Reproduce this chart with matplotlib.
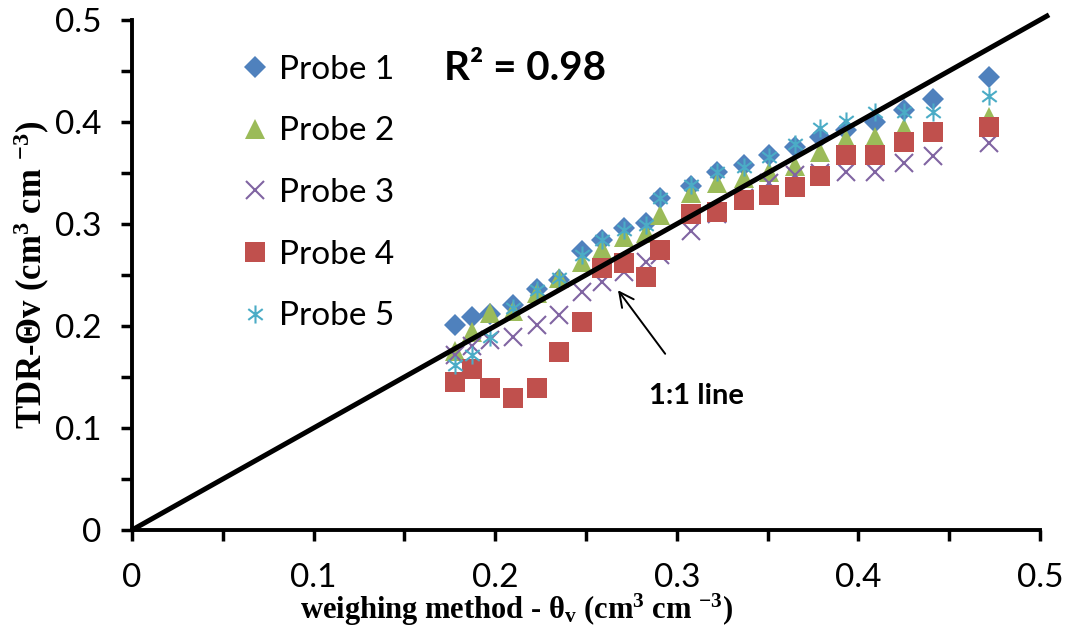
import numpy as np
import matplotlib
matplotlib.use("Agg")
import matplotlib.pyplot as plt
from matplotlib.path import Path

plt.rcParams['font.family'] = ['Lato', 'DejaVu Sans']
plt.rcParams['mathtext.fontset'] = 'custom'
plt.rcParams['mathtext.rm'] = 'Liberation Serif:bold'
plt.rcParams['mathtext.it'] = 'Liberation Serif:bold'
plt.rcParams['mathtext.bf'] = 'Liberation Serif:bold'

# Gravimetric water content (x) shared by all probes
theta_weigh = [0.178, 0.187, 0.197, 0.210, 0.223, 0.235, 0.248, 0.259, 0.271, 0.283, 0.291,
               0.308, 0.322, 0.337, 0.351, 0.365, 0.379, 0.393, 0.409, 0.425, 0.441, 0.472]

probe1 = [0.201, 0.209, 0.212, 0.221, 0.236, 0.245, 0.273, 0.284, 0.296, 0.301, 0.325,
          0.337, 0.351, 0.358, 0.368, 0.375, 0.385, 0.392, 0.400, 0.412, 0.422, 0.444]
probe2 = [0.175, 0.194, 0.213, 0.215, 0.232, 0.247, 0.263, 0.275, 0.287, 0.291, 0.309,
          0.330, 0.340, 0.345, 0.351, 0.357, 0.371, 0.383, 0.385, 0.394, 0.390, 0.405]
probe3 = [0.172, 0.180, 0.186, 0.189, 0.201, 0.211, 0.233, 0.243, 0.253, 0.263, 0.270,
          0.293, 0.310, 0.325, 0.340, 0.348, 0.350, 0.351, 0.351, 0.360, 0.367, 0.379]
probe4 = [0.145, 0.158, 0.139, 0.129, 0.139, 0.174, 0.204, 0.257, 0.262, 0.248, 0.274,
          0.310, 0.312, 0.323, 0.328, 0.336, 0.347, 0.368, 0.368, 0.380, 0.390, 0.395]
probe5 = [0.162, 0.172, 0.189, 0.218, 0.235, 0.247, 0.270, 0.284, 0.294, 0.299, 0.325,
          0.338, 0.351, 0.356, 0.366, 0.378, 0.394, 0.401, 0.410, 0.410, 0.410, 0.425]

labels = ["Probe 1", "Probe 2", "Probe 3", "Probe 4", "Probe 5"]
colors = ["#4F81BD", "#9BBB59", "#8064A2", "#C0504D", "#4BACC6"]

# asterisk: vertical bar plus an X
asterisk = Path([(0, -1), (0, 1), (-0.8, -0.6), (0.8, 0.6), (-0.8, 0.6), (0.8, -0.6)],
                [Path.MOVETO, Path.LINETO] * 3)

fig = plt.figure(figsize=(10.65, 6.36), dpi=100)
ax = fig.add_axes([0.124, 0.1667, 0.8525, 0.802])

styles = [
    dict(marker='D', markersize=11.5, markeredgewidth=0),
    dict(marker='^', markersize=15, markeredgewidth=0),
    dict(marker='x', markersize=13, markeredgewidth=1.5),
    dict(marker='s', markersize=14, markeredgewidth=0),
    dict(marker=asterisk, markersize=13, markeredgewidth=1.5),
]
series = [probe1, probe2, probe3, probe4, probe5]
handles = []
for ys, lab, col, st in zip(series, labels, colors, styles):
    h, = ax.plot(theta_weigh, ys, linestyle='none', color=col, label=lab, zorder=3, **st)
    handles.append(h)

# 1:1 reference line
ax.plot([0, 0.505], [0, 0.505], color='black', linewidth=3.6, zorder=4,
        clip_on=False, solid_capstyle='butt')

ax.set_xlim(0, 0.5)
ax.set_ylim(0, 0.5)
ax.set_xticks([0, 0.1, 0.2, 0.3, 0.4, 0.5])
ax.set_yticks([0, 0.1, 0.2, 0.3, 0.4, 0.5])
ax.set_xticklabels(["0", "0.1", "0.2", "0.3", "0.4", "0.5"])
ax.set_yticklabels(["0", "0.1", "0.2", "0.3", "0.4", "0.5"])
ax.set_xticks(np.arange(0.05, 0.5, 0.1), minor=True)
ax.set_yticks(np.arange(0.05, 0.5, 0.1), minor=True)
ax.tick_params(which='both', direction='out', length=8, width=2.5, labelsize=24)
ax.tick_params(axis='x', which='major', pad=16)
ax.tick_params(axis='y', which='major', pad=14)

for s in ['top', 'right']:
    ax.spines[s].set_visible(False)
for s in ['left', 'bottom']:
    ax.spines[s].set_linewidth(2.8)

ax.set_xlabel(r"weighing method - θ$_{\mathrm{v}}$ (cm$^{3}$ cm $^{-3}$)",
              family='Liberation Serif', fontweight='bold', fontsize=22)
ax.xaxis.set_label_coords(0.424, -0.122)
ax.set_ylabel(r"TDR-Θv (cm$^{3}$ cm $^{-3}$)",
              family='Liberation Serif', fontweight='bold', fontsize=25, labelpad=2)

ax.text(0.172, 0.452, "R² = 0.98", fontsize=29, fontweight='bold', ha='left', va='center')

ax.annotate("1:1 line", xy=(0.2676, 0.235), xytext=(0.311, 0.131),
            fontsize=21, fontweight='bold', ha='center', va='center',
            arrowprops=dict(arrowstyle='->', color='black', lw=1.4,
                            shrinkA=24, shrinkB=0, mutation_scale=26))

ax.legend(handles=handles, loc='upper left', bbox_to_anchor=(0.121, 0.932),
          frameon=False, fontsize=24, labelspacing=0.95, handletextpad=0.3,
          handlelength=0.8, borderaxespad=0, borderpad=0)

fig.savefig("out.png", dpi=100)
